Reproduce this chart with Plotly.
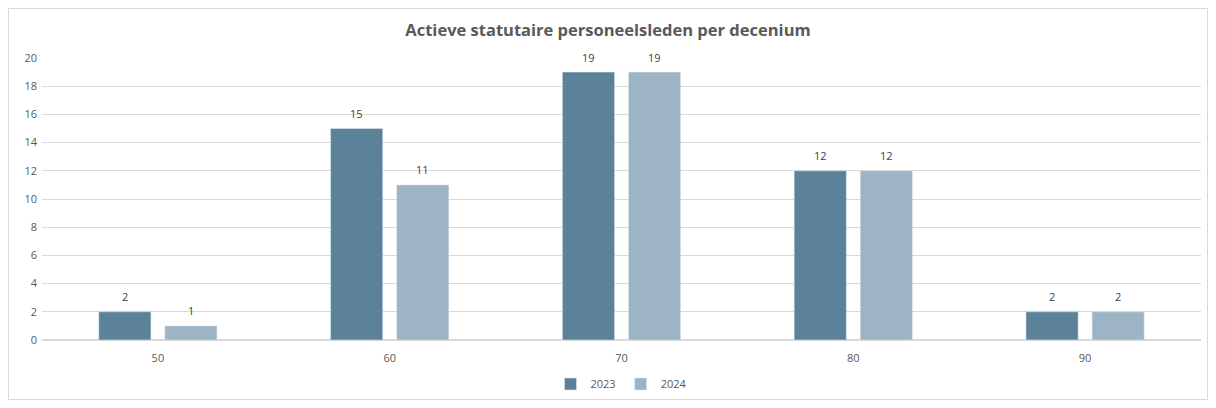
import plotly.graph_objects as go

decennia = ["50", "60", "70", "80", "90"]
waarden_2023 = [2, 15, 19, 12, 2]
waarden_2024 = [1, 11, 19, 12, 2]

kleur_2023 = "#5b8299"
kleur_2024 = "#9db4c4"
tekst = "#595959"

fig = go.Figure()
fig.add_trace(go.Bar(x=decennia, y=waarden_2023, name="2023", marker_color=kleur_2023))
fig.add_trace(go.Bar(x=decennia, y=waarden_2024, name="2024", marker_color=kleur_2024))

# labels boven de staven, iets hoger dan plotly standaard doet
# (x als categorie-index, anders leest plotly "50" als getal)
for i, (a, b) in enumerate(zip(waarden_2023, waarden_2024)):
    for val, dx in ((a, -33), (b, 33)):
        fig.add_annotation(x=i, y=val, text=str(val), showarrow=False, xshift=dx, yshift=15,
                           yanchor="middle", font=dict(size=11, color="#404040"))

# de pagina heeft 8px body-marge, dus figuur iets kleiner
fig.update_layout(
    width=1200, height=392,
    margin=dict(l=34, r=7, t=50, b=60, autoexpand=False),
    paper_bgcolor="white", plot_bgcolor="white",
    font=dict(family="Open Sans, sans-serif", size=11, color=tekst),
    title=dict(text="<b>Actieve statutaire personeelsleden per decenium</b>",
               x=0.5, xanchor="center", y=0.944, yanchor="middle",
               font=dict(size=16.5, color=tekst)),
    barmode="group", bargap=0.43, bargroupgap=0.21,
    showlegend=True,
    legend=dict(orientation="h", x=0.5, xanchor="center", y=-0.156, yanchor="middle",
                font=dict(size=11, color=tekst), traceorder="normal", itemwidth=30),
)
fig.update_yaxes(range=[0, 20], dtick=2, showgrid=True, gridcolor="#d9d9d9", gridwidth=1,
                 zeroline=True, zerolinecolor="#d9d9d9", ticks="", showline=False,
                 automargin=False, ticklabelstandoff=4, tickfont=dict(size=11, color=tekst))
fig.update_xaxes(type="category", range=[-0.5, len(decennia) - 0.5], showgrid=False,
                 showline=False, ticks="", automargin=False,
                 ticklabelstandoff=10, tickfont=dict(size=11, color=tekst))

# rand om de hele grafiek
fig.add_shape(type="rect", xref="paper", yref="paper",
              x0=-0.0289, x1=1.0056, y0=-0.211, y1=1.1755,
              line=dict(color="#d9d9d9", width=1), fillcolor="rgba(0,0,0,0)", layer="below")

fig.write_html("out.html")
